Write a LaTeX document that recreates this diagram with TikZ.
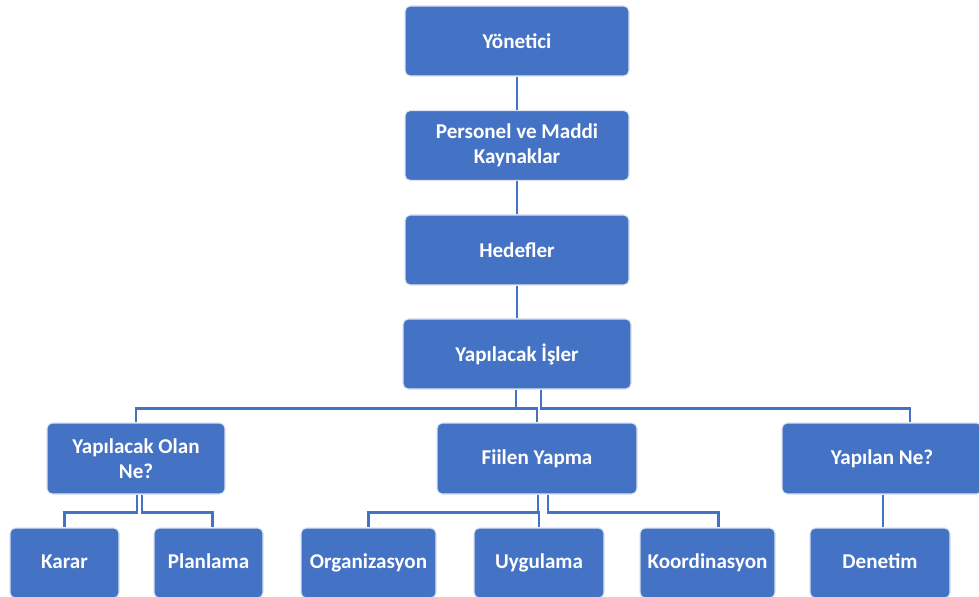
\documentclass[tikz,border=0pt]{standalone}
\usepackage{fontspec}
\setmainfont{Carlito}
\usetikzlibrary{positioning,calc}
\definecolor{boxblue}{HTML}{4472C4}
\definecolor{boxedge}{HTML}{DCE4F2}
\tikzset{
  box/.style  ={rectangle, rounded corners=3pt, fill=boxblue, draw=boxedge,
                line width=0.6pt, text=white, align=center, inner sep=2pt,
                font=\bfseries\fontsize{12}{14}\selectfont,
                minimum height=70*0.02cm},
  topbox/.style={box, minimum width=224*0.02cm},
  leaf/.style ={box, text height=8pt, text depth=1.5pt},
  conn/.style ={draw=boxblue, line width=1.3pt},
}
\begin{document}
\begin{tikzpicture}[x=0.02cm, y=-0.02cm]
  \useasboundingbox (0,0) rectangle (979,597);

  % main chain
  \node[topbox] (yonetici) at (517,41)    {Yönetici};
  \node[topbox] (kaynak)   at (517,145.5) {Personel ve Maddi\\Kaynaklar};
  \node[topbox] (hedef)    at (517,250)   {Hedefler};
  \node[topbox, minimum width=228*0.02cm] (isler) at (517,354) {Yapılacak İşler};

  % second row
  \node[box, minimum width=178*0.02cm, minimum height=71*0.02cm] (olan)    at (136,458.5) {Yapılacak Olan\\Ne?};
  \node[box, minimum width=200*0.02cm, minimum height=71*0.02cm] (fiilen)  at (537,458.5) {Fiilen Yapma};
  \node[box, minimum width=200*0.02cm, minimum height=71*0.02cm] (yapilan) at (882,458.5) {Yapılan Ne?};

  % third row
  \node[leaf, minimum width=109*0.02cm] (karar)   at (64.5,563)  {Karar};
  \node[leaf, minimum width=109*0.02cm] (plan)    at (208.5,563) {Planlama};
  \node[leaf, minimum width=135*0.02cm] (org)     at (368.5,563) {Organizasyon};
  \node[leaf, minimum width=130*0.02cm] (uygula)  at (539,563)   {Uygulama};
  \node[leaf, minimum width=135*0.02cm] (koord)   at (707.5,563) {Koordinasyon};
  \node[leaf, minimum width=140*0.02cm] (denetim) at (880,563)   {Denetim};

  % connectors
  \draw[conn] (yonetici) -- (kaynak);
  \draw[conn] (kaynak) -- (hedef);
  \draw[conn] (hedef) -- (isler);

  \draw[conn] ($(isler.south)+(-1,0)$) -- ++(0,19) -| (olan.north);
  \draw[conn] ($(isler.south)+(-1,0)$) -- ++(0,19) -| (fiilen.north);
  \draw[conn] ($(isler.south)+(24,0)$) -- ++(0,19) -| ($(yapilan.north)+(28,0)$);

  \draw[conn] ($(olan.south)+(1,0)$) -- ++(0,18) -| (karar.north);
  \draw[conn] ($(olan.south)+(6,0)$) -- ++(0,18) -| ($(plan.north)+(4,0)$);

  \draw[conn] ($(fiilen.south)+(1,0)$) -- ++(0,18) -| (org.north);
  \draw[conn] ($(fiilen.south)+(1,0)$) -- ++(0,18) -| (uygula.north);
  \draw[conn] ($(fiilen.south)+(11,0)$) -- ++(0,18) -| ($(koord.north)+(11,0)$);

  \draw[conn] ($(yapilan.south)+(1,0)$) -- ($(denetim.north)+(3,0)$);
\end{tikzpicture}
\end{document}
